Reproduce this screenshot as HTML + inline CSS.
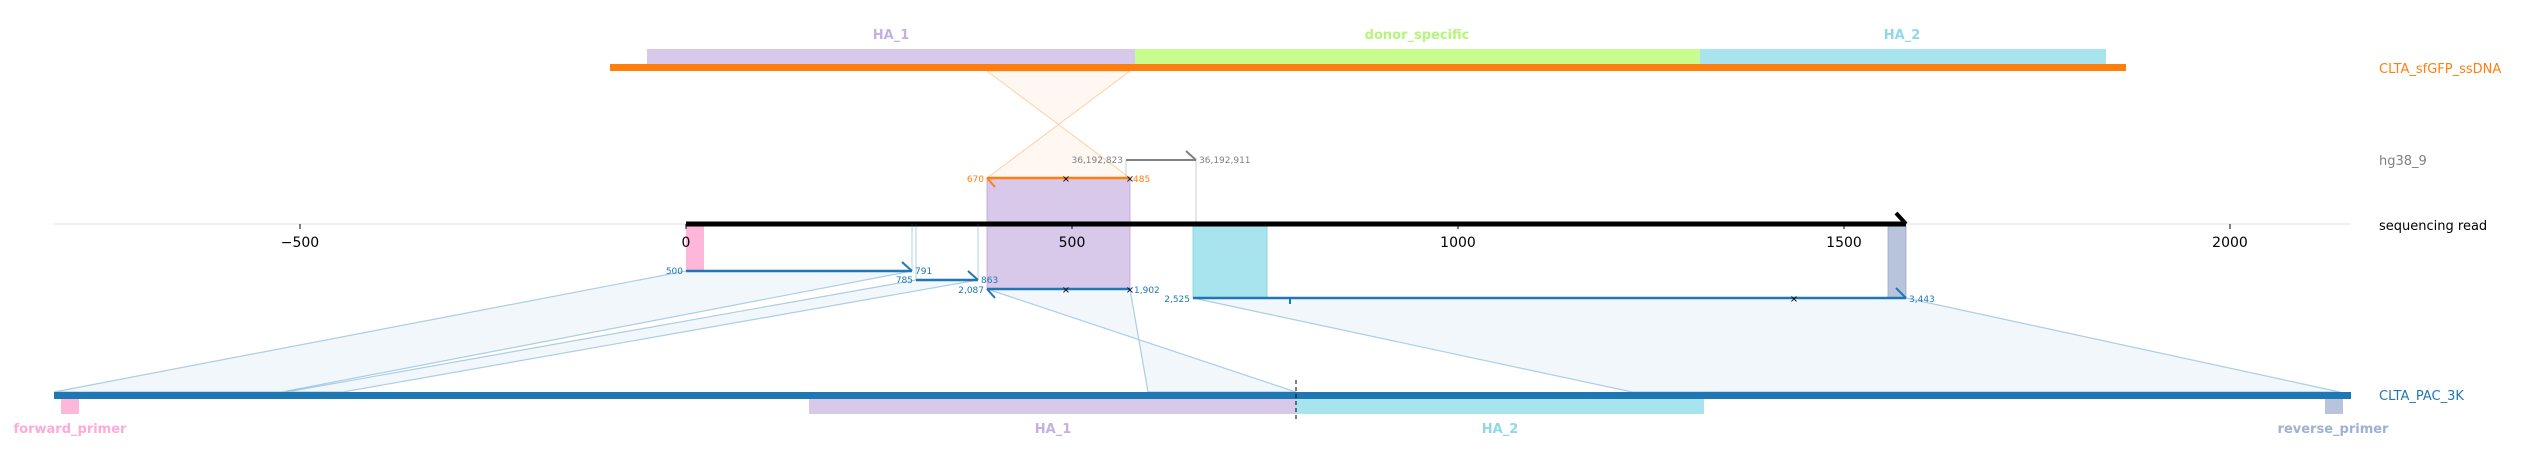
<!DOCTYPE html>
<html><head><meta charset="utf-8"><style>
html,body{margin:0;padding:0;background:#fff;}
svg{display:block;font-family:"DejaVu Sans","Liberation Sans",sans-serif;}
.s{font-size:9px;}
</style></head><body>
<svg width="2521" height="464" viewBox="0 0 2521 464" xmlns="http://www.w3.org/2000/svg">
<text x="891" y="39" font-size="13" font-weight="bold" fill="#c5b0e3" text-anchor="middle">HA_1</text>
<text x="1417" y="39" font-size="13" font-weight="bold" fill="#b5f57a" text-anchor="middle">donor_specific</text>
<text x="1902" y="39" font-size="13" font-weight="bold" fill="#8fd8e8" text-anchor="middle">HA_2</text>
<rect x="647" y="49" width="488" height="15" fill="#d8c8ea"/>
<rect x="1135" y="49" width="565" height="15" fill="#c8fc8e"/>
<rect x="1700" y="49" width="406" height="15" fill="#a8e4ee"/>
<rect x="610" y="64" width="1516" height="7" fill="#ff7f0e"/>
<polygon points="987,71 1130,178 987,178 1130,71" fill="#ff7f0e" fill-opacity="0.06" stroke="#ff7f0e" stroke-opacity="0.35" stroke-width="1"/>
<line x1="1126" y1="160" x2="1126" y2="224" stroke="#ccc" stroke-width="1"/>
<line x1="1196" y1="160" x2="1196" y2="224" stroke="#ccc" stroke-width="1"/>
<line x1="1126" y1="160" x2="1196" y2="160" stroke="#808080" stroke-width="2"/>
<line x1="1196" y1="160" x2="1186" y2="151" stroke="#808080" stroke-width="2"/>
<text x="1123" y="163" class="s" fill="#808080" text-anchor="end">36,192,823</text>
<text x="1199" y="163" class="s" fill="#808080">36,192,911</text>
<rect x="987" y="178" width="143" height="111" fill="#d8c8ea" stroke="#b9a6da" stroke-width="0.8"/>
<line x1="987" y1="178" x2="1130" y2="178" stroke="#ff7f0e" stroke-width="2.5"/>
<line x1="987" y1="178" x2="995" y2="187" stroke="#ff7f0e" stroke-width="2"/>
<text x="984" y="182" class="s" fill="#ff7f0e" text-anchor="end">670</text>
<text x="1133" y="182" class="s" fill="#ff7f0e">485</text>
<text x="1066" y="182" font-size="10" text-anchor="middle" fill="#000">×</text>
<text x="1130" y="182" font-size="10" text-anchor="middle" fill="#000">×</text>
<line x1="54" y1="224" x2="2351" y2="224" stroke="#e0e0e0" stroke-width="1"/>
<rect x="686" y="226" width="18" height="45" fill="#ffb7d9"/>
<rect x="1193" y="226" width="74" height="72" fill="#a8e4ee" stroke="#7fcfe0" stroke-width="0.8"/>
<rect x="1888" y="226" width="18" height="72" fill="#b8c4dc" stroke="#9aa8cc" stroke-width="0.8"/>
<g stroke="#000" stroke-width="1">
<line x1="300" y1="224" x2="300" y2="229"/><line x1="686" y1="224" x2="686" y2="229"/><line x1="1072" y1="224" x2="1072" y2="229"/><line x1="1458" y1="224" x2="1458" y2="229"/><line x1="1844" y1="224" x2="1844" y2="229"/><line x1="2230" y1="224" x2="2230" y2="229"/>
</g>
<g font-size="14" text-anchor="middle" fill="#000">
<text x="300" y="247">−500</text><text x="686" y="247">0</text><text x="1072" y="247">500</text><text x="1458" y="247">1000</text><text x="1844" y="247">1500</text><text x="2230" y="247">2000</text>
</g>
<line x1="686" y1="224" x2="1906" y2="224" stroke="#000" stroke-width="5"/>
<line x1="1906" y1="224" x2="1896" y2="213" stroke="#000" stroke-width="4"/>
<g stroke="#1f77b4" stroke-opacity="0.35" stroke-width="1">
<line x1="912" y1="224" x2="912" y2="271"/><line x1="916" y1="224" x2="916" y2="280"/><line x1="978" y1="224" x2="978" y2="280"/>
</g>
<g fill="#1f77b4" fill-opacity="0.06" stroke="#1f77b4" stroke-opacity="0.35" stroke-width="1.2">
<polygon points="686,271 912,271 282,392 54,392"/>
<polygon points="916,280 978,280 343,392 286,392"/>
<polygon points="987,289 1130,289 1148,392 1296,392"/>
<polygon points="1193,298 1906,298 2340,392 1632,392"/>
</g>
<g stroke="#1f77b4" stroke-width="2.5">
<line x1="686" y1="271" x2="912" y2="271"/>
<line x1="916" y1="280" x2="978" y2="280"/>
<line x1="987" y1="289" x2="1130" y2="289"/>
<line x1="1193" y1="298" x2="1906" y2="298"/>
</g>
<g stroke="#1f77b4" stroke-width="2">
<line x1="912" y1="271" x2="902" y2="262"/>
<line x1="978" y1="280" x2="968" y2="271"/>
<line x1="987" y1="289" x2="995" y2="298"/>
<line x1="1906" y1="298" x2="1896" y2="288"/>
<line x1="1290" y1="298" x2="1290" y2="304"/>
</g>
<g class="s" fill="#1f77b4">
<text x="683" y="274" text-anchor="end">500</text><text x="915" y="274">791</text>
<text x="913" y="283" text-anchor="end">785</text><text x="981" y="283">863</text>
<text x="984" y="293" text-anchor="end">2,087</text><text x="1134" y="293">1,902</text>
<text x="1190" y="302" text-anchor="end">2,525</text><text x="1909" y="302">3,443</text>
</g>
<g font-size="10" text-anchor="middle" fill="#000">
<text x="1066" y="293">×</text><text x="1130" y="293">×</text><text x="1794" y="302">×</text>
</g>
<rect x="54" y="392" width="2297" height="7" fill="#1f77b4"/>
<rect x="61" y="399" width="18" height="15" fill="#ffb7d9"/>
<rect x="809" y="399" width="487" height="15" fill="#d8c8ea"/>
<rect x="1296" y="399" width="408" height="15" fill="#a8e4ee"/>
<rect x="2325" y="399" width="18" height="15" fill="#b8c4dc"/>
<line x1="1296" y1="380" x2="1296" y2="420" stroke="#000" stroke-width="1" stroke-dasharray="4,3"/>
<g font-size="13" font-weight="bold" text-anchor="middle">
<text x="70" y="433" fill="#ffaad8">forward_primer</text>
<text x="1053" y="433" fill="#c5b0e3">HA_1</text>
<text x="1500" y="433" fill="#8fd8e8">HA_2</text>
<text x="2333" y="433" fill="#9fb0d6">reverse_primer</text>
</g>
<g font-size="13">
<text x="2379" y="73" fill="#ff7f0e">CLTA_sfGFP_ssDNA</text>
<text x="2379" y="165" fill="#808080">hg38_9</text>
<text x="2379" y="230" fill="#000">sequencing read</text>
<text x="2379" y="400" fill="#1f77b4">CLTA_PAC_3K</text>
</g>
</svg>
</body></html>
